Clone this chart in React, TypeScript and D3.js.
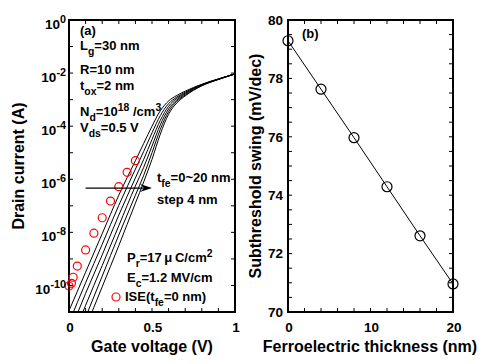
import { useEffect, useRef } from "react";
import * as d3 from "d3";

// panel (a): log10 of drain current (A) against gate voltage, tfe = 0..20 nm
const GATE_V = [0, 0.1, 0.2, 0.3, 0.4, 0.45, 0.5, 0.55, 0.6, 0.65, 0.7, 0.8, 0.9, 1.0];
const LOG_ID_TFE0 = [-10.95, -9.5, -8.05, -6.6, -5.3, -4.65, -4.0, -3.42, -3.05, -2.84, -2.68, -2.42, -2.22, -2.03];
const LOG_ID_TFE4 = [-11.4, -9.9, -8.45, -6.98, -5.62, -4.95, -4.25, -3.6, -3.15, -2.9, -2.72, -2.43, -2.22, -2.03];
const LOG_ID_TFE8 = [-11.85, -10.3, -8.85, -7.35, -5.95, -5.25, -4.5, -3.78, -3.25, -2.95, -2.76, -2.44, -2.23, -2.03];
const LOG_ID_TFE12 = [-12.3, -10.75, -9.25, -7.75, -6.25, -5.55, -4.75, -3.95, -3.35, -3.01, -2.79, -2.45, -2.23, -2.03];
const LOG_ID_TFE16 = [-12.75, -11.2, -9.65, -8.1, -6.6, -5.85, -5.0, -4.12, -3.45, -3.06, -2.83, -2.47, -2.24, -2.03];
const LOG_ID_TFE20 = [-13.2, -11.6, -10.05, -8.5, -6.9, -6.1, -5.25, -4.3, -3.55, -3.12, -2.86, -2.48, -2.24, -2.03];

const ISE_V = [0, 0.015, 0.025, 0.05, 0.1, 0.15, 0.2, 0.25, 0.3, 0.35, 0.4];
const ISE_LOG_ID = [-10.02, -9.92, -9.69, -9.27, -8.66, -8.03, -7.45, -6.82, -6.28, -5.74, -5.3];

const VG_LABELS = [0, 0.5, 1];
const VG_TICKS = d3.range(0, 1.0001, 0.1);
const ID_LABEL_EXP = [0, -2, -4, -6, -8, -10];
const ID_TICK_EXP = d3.range(0, -11.5, -1);

// panel (b): subthreshold swing against ferroelectric thickness
const TFE_NM = [0, 4, 8, 12, 16, 20];
const SS_MV = [79.29, 77.63, 75.97, 74.29, 72.61, 70.96];
const TFE_LABELS = [0, 10, 20];
const TFE_TICKS = d3.range(0, 20.001, 2);
const SS_LABELS = [70, 72, 74, 76, 78, 80];
const SS_TICKS = d3.range(70, 80.001, 0.5);

const FONT = "'Liberation Sans', Arial, sans-serif";

function rich(parent, x, y, parts, size, anchor = "start") {
  const t = parent
    .append("text")
    .attr("x", x)
    .attr("y", y)
    .attr("font-size", size)
    .attr("text-anchor", anchor);
  let shift = 0;
  parts.forEach(([str, kind]) => {
    const target = kind === "sub" ? size * 0.4 : kind === "sup" ? -size * 0.42 : 0;
    t.append("tspan")
      .attr("dy", target - shift)
      .attr("font-size", kind ? size * 0.8 : size)
      .text(str);
    shift = target;
  });
  return t;
}

function ticks(g, x, y, xVals, yVals, len) {
  const [x0, x1] = x.range();
  const [y0, y1] = y.range();
  xVals.forEach((v) => {
    g.append("line").attr("x1", x(v)).attr("x2", x(v)).attr("y1", y0).attr("y2", y0 - len);
    g.append("line").attr("x1", x(v)).attr("x2", x(v)).attr("y1", y1).attr("y2", y1 + len);
  });
  yVals.forEach((v) => {
    g.append("line").attr("x1", x0).attr("x2", x0 + len).attr("y1", y(v)).attr("y2", y(v));
    g.append("line").attr("x1", x1).attr("x2", x1 - len).attr("y1", y(v)).attr("y2", y(v));
  });
  g.attr("stroke", "#000").attr("stroke-width", 1);
}

export default function App() {
  const ref = useRef(null);

  useEffect(() => {
    const svg = d3.select(ref.current);
    svg.selectAll("*").remove();
    svg.attr("font-family", FONT).attr("font-weight", "bold");

    // ---------- panel (a) ----------
    const xa = d3.scaleLinear().domain([0, 1]).range([69, 235]);
    const ya = d3.scaleLog().domain([1e-11, 1]).range([312, 20]);

    svg
      .append("clipPath")
      .attr("id", "clipA")
      .append("rect")
      .attr("x", 69)
      .attr("y", 20)
      .attr("width", 166)
      .attr("height", 292);

    const series = [LOG_ID_TFE0, LOG_ID_TFE4, LOG_ID_TFE8, LOG_ID_TFE12, LOG_ID_TFE16, LOG_ID_TFE20];
    const line = d3
      .line()
      .x((d) => xa(d[0]))
      .y((d) => ya(Math.pow(10, d[1])))
      .curve(d3.curveMonotoneX);

    const ga = svg.append("g").attr("clip-path", "url(#clipA)");
    series.forEach((s) => {
      ga.append("path")
        .datum(GATE_V.map((v, i) => [v, s[i]]))
        .attr("fill", "none")
        .attr("stroke", "#000")
        .attr("stroke-width", 1)
        .attr("d", line);
    });

    ticks(svg.append("g"), xa, ya, VG_TICKS, ID_TICK_EXP.map((e) => Math.pow(10, e)), 4);

    svg
      .append("rect")
      .attr("x", 69)
      .attr("y", 20)
      .attr("width", 166)
      .attr("height", 292)
      .attr("fill", "none")
      .attr("stroke", "#000")
      .attr("stroke-width", 2);

    svg
      .append("g")
      .selectAll("circle")
      .data(ISE_V.map((v, i) => [v, ISE_LOG_ID[i]]))
      .join("circle")
      .attr("cx", (d) => xa(d[0]))
      .attr("cy", (d) => ya(Math.pow(10, d[1])))
      .attr("r", 4)
      .attr("fill", "none")
      .attr("stroke", "#ff0000")
      .attr("stroke-width", 1.2);

    VG_LABELS.forEach((v) => {
      svg
        .append("text")
        .attr("x", xa(v) + 1)
        .attr("y", 332)
        .attr("font-size", 13.5)
        .attr("text-anchor", "middle")
        .text(v);
    });
    ID_LABEL_EXP.forEach((e) => {
      rich(svg, 66, ya(Math.pow(10, e)) + 8.5, [["10"], [String(e), "sup"]], 13.5, "end");
    });

    svg
      .append("text")
      .attr("x", 152)
      .attr("y", 352)
      .attr("font-size", 16)
      .attr("text-anchor", "middle")
      .text("Gate voltage (V)");
    svg
      .append("text")
      .attr("transform", "translate(24,166) rotate(-90)")
      .attr("font-size", 16)
      .attr("text-anchor", "middle")
      .text("Drain current (A)");

    const ann = svg.append("g");
    rich(ann, 80, 35, [["(a)"]], 13);
    rich(ann, 80, 50, [["L"], ["g", "sub"], ["=30 nm"]], 13);
    rich(ann, 80, 74, [["R=10 nm"]], 13);
    rich(ann, 80, 90, [["t"], ["ox", "sub"], ["=2 nm"]], 13);
    rich(ann, 80, 116, [["N"], ["d", "sub"], ["=10"], ["18", "sup"], [" /cm"], ["3", "sup"]], 13);
    rich(ann, 80, 132, [["V"], ["ds", "sub"], ["=0.5 V"]], 13);
    rich(ann, 157, 182, [["t"], ["fe", "sub"], ["=0~20 nm"]], 13);
    rich(ann, 157, 204, [["step 4 nm"]], 13);
    rich(ann, 127, 262, [["P"], ["r", "sub"], ["=17\u2009\u03bc\u2009C/cm"], ["2", "sup"]], 13);
    rich(ann, 127, 282, [["E"], ["c", "sub"], ["=1.2 MV/cm"]], 13);
    rich(ann, 125, 301, [["ISE(t"], ["fe", "sub"], ["=0 nm)"]], 13);
    ann
      .append("circle")
      .attr("cx", 116)
      .attr("cy", 297)
      .attr("r", 4)
      .attr("fill", "none")
      .attr("stroke", "#ff0000")
      .attr("stroke-width", 1.2);

    // arrow across the tfe family
    const ay = ya(Math.pow(10, -6.33));
    const ax0 = xa(0.1);
    const ax1 = xa(0.5);
    ann
      .append("line")
      .attr("x1", ax0)
      .attr("x2", ax1 - 4)
      .attr("y1", ay)
      .attr("y2", ay)
      .attr("stroke", "#000")
      .attr("stroke-width", 1.2);
    ann
      .append("path")
      .attr("d", `M${ax1},${ay} L${ax1 - 12},${ay - 4} L${ax1 - 8},${ay} L${ax1 - 12},${ay + 4} Z`)
      .attr("fill", "#000");

    // ---------- panel (b) ----------
    const xb = d3.scaleLinear().domain([0, 20]).range([288, 453]);
    const yb = d3.scaleLinear().domain([70, 80]).range([312, 20]);

    ticks(svg.append("g"), xb, yb, TFE_TICKS, SS_TICKS, 4);

    svg
      .append("rect")
      .attr("x", 288)
      .attr("y", 20)
      .attr("width", 165)
      .attr("height", 292)
      .attr("fill", "none")
      .attr("stroke", "#000")
      .attr("stroke-width", 2);

    const pts = TFE_NM.map((t, i) => [t, SS_MV[i]]);
    svg
      .append("path")
      .datum(pts)
      .attr("fill", "none")
      .attr("stroke", "#000")
      .attr("stroke-width", 1)
      .attr(
        "d",
        d3
          .line()
          .x((d) => xb(d[0]))
          .y((d) => yb(d[1]))
      );
    svg
      .append("g")
      .selectAll("circle")
      .data(pts)
      .join("circle")
      .attr("cx", (d) => xb(d[0]))
      .attr("cy", (d) => yb(d[1]))
      .attr("r", 5)
      .attr("fill", "none")
      .attr("stroke", "#000")
      .attr("stroke-width", 1.2);

    TFE_LABELS.forEach((v) => {
      svg
        .append("text")
        .attr("x", xb(v) + 1)
        .attr("y", 332)
        .attr("font-size", 13.5)
        .attr("text-anchor", "middle")
        .text(v);
    });
    SS_LABELS.forEach((v) => {
      svg
        .append("text")
        .attr("x", 283)
        .attr("y", yb(v) + 4.7)
        .attr("font-size", 13.5)
        .attr("text-anchor", "end")
        .text(v);
    });

    rich(svg, 302, 38, [["(b)"]], 13);

    svg
      .append("text")
      .attr("x", 370)
      .attr("y", 352)
      .attr("font-size", 16)
      .attr("text-anchor", "middle")
      .text("Ferroelectric thickness (nm)");
    svg
      .append("text")
      .attr("transform", "translate(261,166) rotate(-90)")
      .attr("font-size", 16)
      .attr("text-anchor", "middle")
      .text("Subthreshold swing (mV/dec)");
  }, []);

  return (
    <svg
      ref={ref}
      width={493}
      height={364}
      style={{ position: "absolute", left: 0, top: 0, background: "#fff" }}
    />
  );
}
